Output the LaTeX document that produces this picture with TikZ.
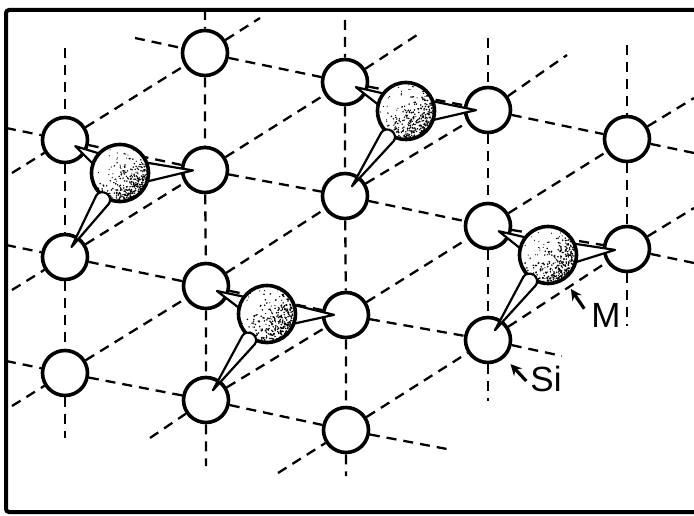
\documentclass[tikz,border=0pt]{standalone}
\usepackage{fontspec}
\setmainfont{Liberation Sans}
\usetikzlibrary{backgrounds,calc,arrows.meta}
\pgfdeclarelayer{sites}
\pgfsetlayers{background,sites,main}

% teardrop bond from sphere #1 to site #2, half width #3,
% round end centred #4 away from the sphere centre
\newcommand\lobe[4]{%
  \path ($(#2)!12pt!(#1)$) coordinate (lt)
        ($(#1)!#4pt!(#2)$) coordinate (lb)
        ($(lb)!#3pt!90:(lt)$) coordinate (la)
        ($(lb)!#3pt!-90:(lt)$) coordinate (lc)
        ($(lb)!-#3pt!(lt)$) coordinate (le);
  \draw[bond] (lt) -- (la)
    .. controls ($(la)!-0.55*#3pt!(lt)$) and ($(le)!0.55*#3pt!90:(lt)$) .. (le)
    .. controls ($(le)!0.55*#3pt!-90:(lt)$) and ($(lc)!-0.55*#3pt!(lt)$) .. (lc)
    -- cycle;
}

% dotted shading of a sphere, thicker towards the lower right
\newcommand\stipple[1]{%
  \begin{scope}
    \clip (#1) circle (27);
    \foreach \k in {1,...,60}{
      \pgfmathsetmacro\du{27*(2*rnd-1)}
      \pgfmathsetmacro\dv{27*(2*rnd-1)}
      \fill ($(#1)+(\du,\dv)$) circle (0.6);
    }
    \foreach \k in {1,...,1400}{
      \pgfmathsetmacro\du{27*(2*rnd-1)}
      \pgfmathsetmacro\dv{27*(2*rnd-1)}
      \pgfmathtruncatemacro\keep{rnd < ((\du+\dv)/76.4+0.5)^3 ? 1 : 0}
      \ifnum\keep=1 \fill ($(#1)+(\du,\dv)$) circle (0.85); \fi
    }
  \end{scope}
}

\begin{document}
\begin{tikzpicture}
  [x=1pt,y=-1pt,
   si/.style={circle,draw=black,fill=white,line width=3.6pt,minimum size=45pt,inner sep=0pt},
   m/.style={circle,draw=black,fill=white,line width=3.6pt,minimum size=57pt,inner sep=0pt},
   lat/.style={line width=2.3pt,dash pattern=on 10pt off 7pt},
   bond/.style={draw=black,fill=white,line width=2.2pt,line join=round},
   lab/.style={inner sep=0pt,font=\fontsize{35}{35}\selectfont},
   pointer/.style={line width=3.2pt,-{Stealth[length=11pt,width=11pt]}}]

  \useasboundingbox (0,0) rectangle (694,516);
  \pgfmathsetseed{4711}

  % Si sites, column by column
  \begin{pgfonlayer}{sites}
    \node[si] (s01) at ( 65,140) {};
    \node[si] (s02) at ( 65,257) {};
    \node[si] (s03) at ( 65,373) {};

    \node[si] (s10) at (205, 53) {};
    \node[si] (s11) at (205,170) {};
    \node[si] (s12) at (206,286) {};
    \node[si] (s13) at (206,400) {};

    \node[si] (s20) at (345, 82) {};
    \node[si] (s21) at (345,196) {};
    \node[si] (s22) at (346,315) {};
    \node[si] (s23) at (346,430) {};

    \node[si] (s30) at (488,110) {};
    \node[si] (s31) at (488,226) {};
    \node[si] (s32) at (488,340) {};

    \node[si] (s40) at (627,139) {};
    \node[si] (s41) at (627,249) {};
  \end{pgfonlayer}

  % M spheres
  \node[m] (m1) at (120,173) {};
  \node[m] (m2) at (406,111) {};
  \node[m] (m3) at (267,314) {};
  \node[m] (m4) at (548,255) {};

  % loose ends of the lattice lines
  \coordinate (v0t) at ( 65, 48);  \coordinate (v0b) at ( 65,438);
  \coordinate (v1t) at (205, 10);  \coordinate (v1b) at (206,466);
  \coordinate (v2t) at (345, 20);  \coordinate (v2b) at (346,476);
  \coordinate (v3t) at (488, 38);  \coordinate (v3b) at (488,401);
  \coordinate (v4t) at (627, 45);  \coordinate (v4b) at (627,326);

  \coordinate (h0w) at (135, 38);  \coordinate (h0e) at (694,153);
  \coordinate (h1w) at (  6,128);  \coordinate (h1e) at (694,263);
  \coordinate (h2w) at (  6,245);  \coordinate (h2e) at (562,356);
  \coordinate (h3w) at (  6,361);  \coordinate (h3e) at (447,449);

  \coordinate (d0w) at ( 12,173);  \coordinate (d0e) at (260, 18);
  \coordinate (d1w) at ( 12,290);  \coordinate (d1e) at (417, 35);
  \coordinate (d2w) at ( 12,406);  \coordinate (d2e) at (567, 55);
  \coordinate (d3w) at (150,438);  \coordinate (d3e) at (694, 98);
  \coordinate (d4w) at (278,473);  \coordinate (d4e) at (694,208);

  \begin{scope}[on background layer]
    \draw[lat] (v0t) -- (s01) -- (s02) -- (s03) -- (v0b);
    \draw[lat] (v1t) -- (s10) -- (s11) -- (s12) -- (s13) -- (v1b);
    \draw[lat] (v2t) -- (s20) -- (s21) -- (s22) -- (s23) -- (v2b);
    \draw[lat] (v3t) -- (s30) -- (s31) -- (s32) -- (v3b);
    \draw[lat] (v4t) -- (s40) -- (s41) -- (v4b);

    \draw[lat] (h0w) -- (s10) -- (s20) -- (s30) -- (s40) -- (h0e);
    \draw[lat] (h1w) -- (s01) -- (s11) -- (s21) -- (s31) -- (s41) -- (h1e);
    \draw[lat] (h2w) -- (s02) -- (s12) -- (s22) -- (s32) -- (h2e);
    \draw[lat] (h3w) -- (s03) -- (s13) -- (s23) -- (h3e);

    \draw[lat] (d0w) -- (s01) -- (s10) -- (d0e);
    \draw[lat] (d1w) -- (s02) -- (s11) -- (s20) -- (d1e);
    \draw[lat] (d2w) -- (s03) -- (s12) -- (s21) -- (s30) -- (d2e);
    \draw[lat] (d3w) -- (s13) -- (s22) -- (s31) -- (s40) -- (d3e);
    \draw[lat] (d4w) -- (s23) -- (s32) -- (s41) -- (d4e);
  \end{scope}

  % bonds running behind the spheres
  \begin{pgfonlayer}{sites}
    \lobe{m1}{s01}{7}{24} \lobe{m1}{s11}{10}{24}
    \lobe{m2}{s20}{7}{24} \lobe{m2}{s30}{10}{24}
    \lobe{m3}{s12}{7}{24} \lobe{m3}{s22}{10}{24}
    \lobe{m4}{s31}{7}{24} \lobe{m4}{s41}{10}{24}
  \end{pgfonlayer}

  \stipple{m1} \stipple{m2} \stipple{m3} \stipple{m4}

  % bonds in front
  \lobe{m1}{s02}{7.5}{32}
  \lobe{m2}{s21}{7.5}{32}
  \lobe{m3}{s13}{7.5}{32}
  \lobe{m4}{s32}{7.5}{32}

  % labels
  \node[lab] (lbM)  at (606,315) {M};
  \node[lab] (lbSi) at (546,379) {Si};
  \coordinate (mtail)  at ([xshift=-7pt,yshift=-6pt]lbM.north west);
  \coordinate (sitail) at ([xshift=-4pt,yshift=-2pt]lbSi.west);
  \draw[pointer] (mtail)  -- ($(m4)!41pt!(mtail)$);
  \draw[pointer] (sitail) -- ($(s32)!33pt!(sitail)$);

  % frame
  \draw[line width=4pt,rounded corners=3pt] (6,10) rectangle (697,512);
\end{tikzpicture}
\end{document}
